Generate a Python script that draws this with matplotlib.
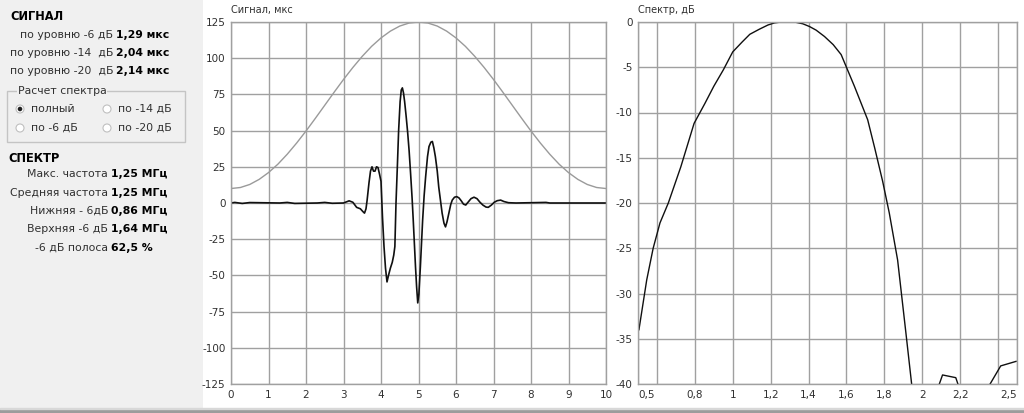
import matplotlib
matplotlib.use("Agg")
import matplotlib.pyplot as plt
from matplotlib.patches import Rectangle, Circle

plt.rcParams['font.family'] = ['DejaVu Sans']
plt.rcParams['axes.unicode_minus'] = False

# --- data ---
win_t = [0, 0.25, 0.5, 0.75, 1.0, 1.25, 1.5, 1.75, 2.0, 2.25, 2.5, 2.75,
         3.0, 3.25, 3.5, 3.75, 4.0, 4.25, 4.5, 4.75, 5.0, 5.25, 5.5, 5.75,
         6.0, 6.25, 6.5, 6.75, 7.0, 7.25, 7.5, 7.75, 8.0, 8.25, 8.5, 8.75,
         9.0, 9.25, 9.5, 9.75, 10.0]
win_v = [10, 10.7, 12.8, 16.3, 21.0, 26.8, 33.7, 41.4, 49.7, 58.5, 67.5,
         76.5, 85.3, 93.6, 101.3, 108.2, 114.0, 118.7, 122.2, 124.3, 125,
         124.3, 122.2, 118.7, 114.0, 108.2, 101.3, 93.6, 85.3, 76.5, 67.5,
         58.5, 49.7, 41.4, 33.7, 26.8, 21.0, 16.3, 12.8, 10.7, 10]

sig_t = [0, 0.1, 0.3, 0.5, 1.3, 1.5, 1.7, 2.3, 2.5, 2.7, 3.0, 3.15, 3.25,
         3.35, 3.45, 3.52, 3.56, 3.60, 3.63, 3.68, 3.72, 3.76, 3.80, 3.84,
         3.88, 3.92, 3.96, 4.00, 4.04, 4.08, 4.12, 4.16, 4.20, 4.25, 4.30,
         4.34, 4.37, 4.40, 4.44, 4.47, 4.51, 4.54, 4.57, 4.60, 4.63, 4.67,
         4.71, 4.75, 4.79, 4.83, 4.86, 4.89, 4.92, 4.95, 4.98, 5.01, 5.05,
         5.08, 5.11, 5.15, 5.19, 5.24, 5.28, 5.33, 5.37, 5.41, 5.45, 5.50,
         5.54, 5.59, 5.63, 5.68, 5.72, 5.76, 5.81, 5.86, 5.90, 5.96, 6.02,
         6.08, 6.14, 6.20, 6.26, 6.32, 6.40, 6.48, 6.56, 6.64, 6.72, 6.80,
         6.86, 6.94, 7.02, 7.10, 7.19, 7.28, 7.40, 7.6, 8.4, 8.5, 10.0]
sig_v = [0, 0.4, -0.3, 0.3, 0, 0.4, -0.3, 0, 0.4, -0.2, 0, 1.5, 0.5,
         -3, -4, -6, -7, -4, 2, 14, 22, 25, 22, 22,
         25, 24.5, 20, 15, -10, -30, -45, -54.5, -50, -45, -41,
         -36, -30, 0, 28, 50, 70, 78, 79.5, 76, 70, 60,
         49, 36, 20, 3, -12, -28, -44, -58, -69, -63, -44,
         -28, -12, 5, 18, 32, 39, 42, 42.5, 38, 32, 22,
         11, 1, -7, -14, -16.5, -13, -7, -1, 2, 4, 4.4,
         3.5, 1.5, -0.8, -1.4, 0.5, 3, 4, 3, 0.5, -1.5, -2.8,
         -3, -1.5, 0.5, 1.6, 2, 1, 0.2, 0, 0.4, 0, 0]

spec_f = [0.505, 0.546, 0.58, 0.616, 0.66, 0.726, 0.796, 0.853, 0.90, 0.95,
          1.0, 1.05, 1.09, 1.14, 1.186, 1.22, 1.256, 1.30, 1.326, 1.37,
          1.405, 1.44, 1.484, 1.53, 1.572, 1.598, 1.642, 1.712, 1.75, 1.791,
          1.826, 1.87, 1.914, 1.944, 2.0, 2.07, 2.107, 2.177, 2.22, 2.30,
          2.33, 2.414, 2.495]
spec_db = [-34.0, -28.5, -25.0, -22.2, -20, -16, -11.2, -9, -7.1, -5.3,
           -3.3, -2.2, -1.36, -0.8, -0.33, -0.1, 0, 0, 0, -0.2,
           -0.5, -0.9, -1.6, -2.5, -3.6, -4.9, -7.1, -10.8, -14, -17.6,
           -21.1, -26.3, -34.4, -40, -58, -41.2, -39.0, -39.3, -42, -55,
           -41, -38.0, -37.5]

sig_yticks = [-125, -100, -75, -50, -25, 0, 25, 50, 75, 100, 125]
sig_xticks = [0, 1, 2, 3, 4, 5, 6, 7, 8, 9, 10]
spec_yticks = [0, -5, -10, -15, -20, -25, -30, -35, -40]
spec_xticks = [0.5, 0.8, 1.0, 1.2, 1.4, 1.6, 1.8, 2.0, 2.2, 2.5]
spec_xlabels = ["0,5", "0,8", "1", "1,2", "1,4", "1,6", "1,8", "2", "2,2",
                "2,5"]

signal_rows = [("по уровню -6 дБ", "1,29 мкс"),
               ("по уровню -14  дБ", "2,04 мкс"),
               ("по уровню -20  дБ", "2,14 мкс")]
spectrum_rows = [("Макс. частота", "1,25 МГц"),
                 ("Средняя частота", "1,25 МГц"),
                 ("Нижняя - 6дБ", "0,86 МГц"),
                 ("Верхняя -6 дБ", "1,64 МГц"),
                 ("-6 дБ полоса", "62,5 %")]
radio_labels = ["полный", "по -14 дБ", "по -6 дБ", "по -20 дБ"]

W, H = 1024, 413
GRID = '#a0a0a0'
TXT = '#303030'

fig = plt.figure(figsize=(W / 100, H / 100), dpi=100)
fig.patch.set_facecolor('white')


def box(x0, x1, y0, y1):
    return [x0 / W, 1 - y1 / H, (x1 - x0) / W, (y1 - y0) / H]


def style(ax):
    for s in ax.spines.values():
        s.set_color(GRID)
        s.set_linewidth(1)
    ax.tick_params(which='both', length=0, labelsize=7.5, colors=TXT,
                   pad=4)
    ax.grid(True, which='both', color=GRID, linewidth=1)
    ax.set_axisbelow(True)


# left info panel
panel = fig.add_axes(box(0, 203, 0, H))
panel.set_xlim(0, 203)
panel.set_ylim(H, 0)
panel.axis('off')
panel.add_patch(Rectangle((0, 0), 203, H, color='#f0f0f0', zorder=0))

fs = 7.8
panel.text(10, 17, "СИГНАЛ", fontsize=8.3, fontweight='bold', va='center',
           color='black')
for i, (lab, val) in enumerate(signal_rows):
    y = 35 + i * 18
    panel.text(113, y, lab, fontsize=fs, ha='right', va='center', color=TXT)
    panel.text(116, y, val, fontsize=fs, fontweight='bold', ha='left',
               va='center', color='black')

panel.add_patch(Rectangle((7, 91), 178, 51, fill=False, edgecolor='#c4c4c4',
                          linewidth=1))
panel.text(18, 91, "Расчет спектра", fontsize=fs, va='center', color=TXT,
           bbox=dict(facecolor='#f0f0f0', edgecolor='none', pad=0.5))
radio_pos = [(20, 109), (107, 109), (20, 128), (107, 128)]
for i, ((cx, cy), lab) in enumerate(zip(radio_pos, radio_labels)):
    panel.add_patch(Circle((cx, cy), 4, facecolor='white',
                           edgecolor='#c0c0c0', linewidth=0.8))
    if i == 0:
        panel.add_patch(Circle((cx, cy), 1.6, color='#202020'))
    panel.text(cx + 11, cy, lab, fontsize=fs, va='center', color=TXT)

panel.text(8, 159, "СПЕКТР", fontsize=8.3, fontweight='bold', va='center',
           color='black')
for i, (lab, val) in enumerate(spectrum_rows):
    y = 174 + i * 18.5
    panel.text(108, y, lab, fontsize=fs, ha='right', va='center', color=TXT)
    panel.text(111, y, val, fontsize=fs, fontweight='bold', ha='left',
               va='center', color='black')

# signal chart
ax1 = fig.add_axes(box(231, 606, 22, 384))
ax1.plot(win_t, win_v, color='#9a9a9a', linewidth=1)
ax1.plot(sig_t, sig_v, color='#101010', linewidth=1.2)
ax1.set_xlim(0, 10)
ax1.set_ylim(-125, 125)
ax1.set_xticks(sig_xticks)
ax1.set_yticks(sig_yticks)
style(ax1)
ax1.text(0, 1.018, "Сигнал, мкс", transform=ax1.transAxes, fontsize=7,
         color=TXT, va='bottom', ha='left')

# spectrum chart
ax2 = fig.add_axes(box(638, 1017, 22, 384))
ax2.plot(spec_f, spec_db, color='#101010', linewidth=1)
ax2.set_xlim(0.5, 2.5)
ax2.set_ylim(-40, 0)
ax2.set_xticks(spec_xticks)
ax2.set_xticklabels(spec_xlabels)
ax2.set_xticks([0.6, 2.4], minor=True)
ax2.set_yticks(spec_yticks)
style(ax2)
lbls = ax2.get_xticklabels()
lbls[0].set_ha('left')
lbls[-1].set_ha('right')
ax2.text(0, 1.018, "Спектр, дБ", transform=ax2.transAxes, fontsize=7,
         color=TXT, va='bottom', ha='left')

# bottom window edge
fig.patches.append(Rectangle((0, 0), 1, 4 / H, transform=fig.transFigure,
                             color='#9c9c9c', zorder=5))
fig.patches.append(Rectangle((0, 4 / H), 1, 1 / H, transform=fig.transFigure,
                             color='#d8d8d8', zorder=5))

fig.savefig('out.png', dpi=100, facecolor=fig.get_facecolor())
